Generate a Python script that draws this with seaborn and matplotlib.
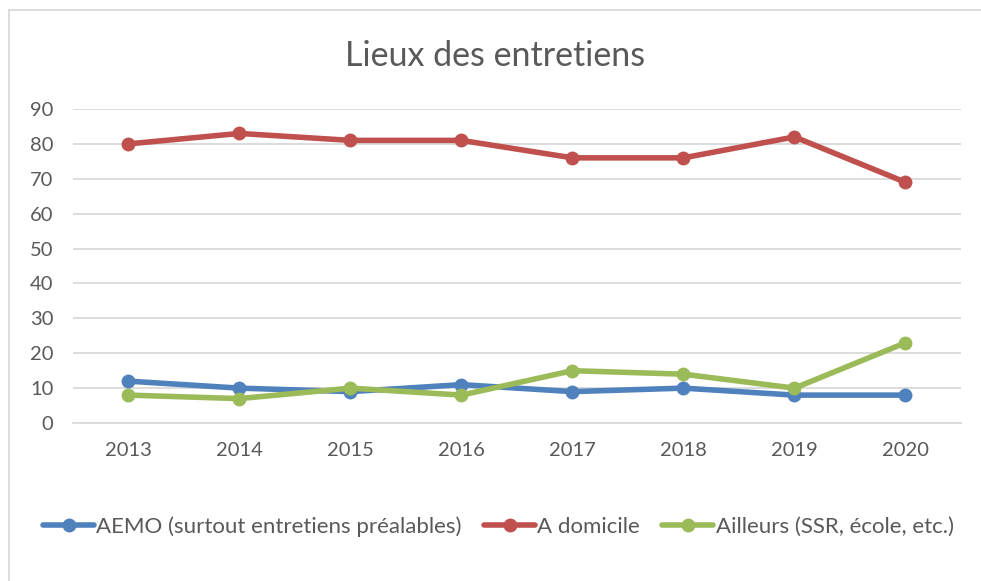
import matplotlib
matplotlib.use("Agg")
import matplotlib.pyplot as plt
import seaborn as sns
import pandas as pd
from matplotlib.patches import Rectangle

# Data
years = [2013, 2014, 2015, 2016, 2017, 2018, 2019, 2020]
aemo = [12, 10, 9, 11, 9, 10, 8, 8]
domicile = [80, 83, 81, 81, 76, 76, 82, 69]
ailleurs = [8, 7, 10, 8, 15, 14, 10, 23]
series_names = ["AEMO (surtout entretiens préalables)", "A domicile", "Ailleurs (SSR, école, etc.)"]
colors = ["#4F81BD", "#C0504D", "#9BBB59"]
y_ticks = [0, 10, 20, 30, 40, 50, 60, 70, 80, 90]

sns.set_theme(style="white")
plt.rcParams["font.family"] = ["Lato", "DejaVu Sans"]
text_color = "#595959"

fig = plt.figure(figsize=(9.81, 5.81), dpi=100)
ax = fig.add_axes([0.0744, 0.2719, 0.9052, 0.5405])

# Outer chart border
fig.patches.append(Rectangle((9 / 981, -0.1), 1.1, 1 - 10 / 581 + 0.1,
                             transform=fig.transFigure, fill=False,
                             edgecolor="#D9D9D9", linewidth=1.3))

for name, vals, col in zip(series_names, [aemo, domicile, ailleurs], colors):
    sns.lineplot(x=years, y=vals, ax=ax, color=col, linewidth=4,
                 marker="o", markersize=10, markeredgewidth=0, label=name)

ax.set_xlim(2012.5, 2020.5)
ax.set_ylim(0, 90)
ax.set_yticks(y_ticks)
ax.set_xticks(years)
ax.set_xticklabels([str(y) for y in years])
ax.yaxis.grid(True, color="#D9D9D9", linewidth=1.3)
ax.xaxis.grid(False)
for side in ["left", "right", "top"]:
    ax.spines[side].set_visible(False)
ax.spines["bottom"].set_color("#D9D9D9")
ax.spines["bottom"].set_linewidth(1.3)
ax.tick_params(axis="both", length=0, labelsize=14.5, colors=text_color)
ax.tick_params(axis="x", pad=14)
ax.tick_params(axis="y", pad=14)
ax.set_xlabel("")
ax.set_ylabel("")

fig.text(0.505, 0.903, "Lieux des entretiens", ha="center", va="center",
         fontsize=24.5, color=text_color)

ax.legend_.remove()
handles, labels = ax.get_legend_handles_labels()
fig.legend(handles, labels, loc="center", bbox_to_anchor=(0.508, 0.093),
           ncol=3, frameon=False, fontsize=16, handlelength=2.3,
           handletextpad=0.1, columnspacing=1.0, labelcolor=text_color)

fig.savefig("out.png", dpi=100)
